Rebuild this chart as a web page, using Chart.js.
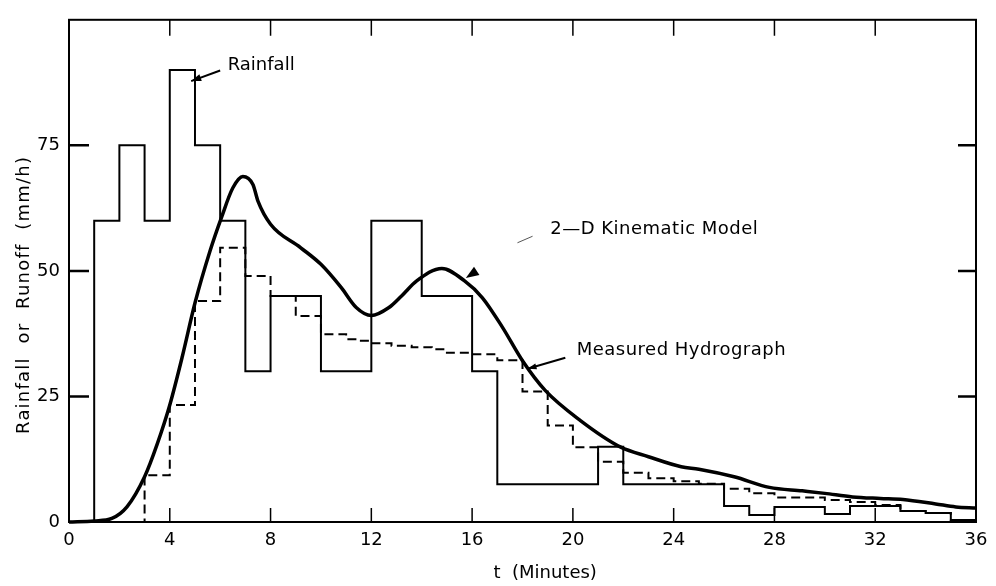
<!DOCTYPE html>
<html lang="en">
<head>
<meta charset="UTF-8">
<title>Rainfall and runoff hydrograph</title>
<script src="https://cdn.jsdelivr.net/npm/chart.js"></script>
<style>
  html, body { margin: 0; padding: 0; background: #fff; }
  #wrap { width: 996px; height: 586px; }
</style>
</head>
<body>
<div id="wrap"><canvas id="hydro" width="996" height="586"></canvas></div>
<script>
// rainfall intensity (mm/h), each value holds until the next time (min)
const rainTime = [0, 1, 2, 3, 4, 5, 6, 7, 8, 10, 12, 14, 16, 17, 21, 22, 26, 27, 28, 30, 31, 33, 34, 35, 36];
const rainRate = [0, 60, 75, 60, 90, 75, 60, 30, 45, 30, 60, 45, 30, 7.5, 15, 7.5, 3.2, 1.4, 3.0, 1.6, 3.2, 2.2, 1.8, 0.4, 0.4];

// measured hydrograph, also stepped
const measTime = [0, 3, 4, 5, 6, 7, 8, 9, 10, 11, 11.5, 12, 12.8, 13.6, 14.4, 15, 16, 17, 18, 19,
                  20, 21, 22, 23, 24, 25, 26, 27, 28, 30, 31, 32, 33, 34, 35, 36];
const measRate = [0, 9.3, 23.3, 44, 54.6, 49, 45, 41, 37.4, 36.4, 36.1, 35.6, 35.1, 34.8, 34.4, 33.7, 33.4, 32.2, 26, 19.2,
                  14.9, 12, 9.8, 8.7, 8.1, 7.6, 6.6, 5.7, 4.9, 4.4, 4.0, 3.4, 2.2, 1.8, 0.4, 0.4];

// 2-D kinematic model (smooth curve)
const modelTime = [0, 1, 1.7, 2.3, 3, 3.5, 4, 4.5, 5, 5.6, 6.05, 6.5, 6.9, 7.3, 7.5, 8, 9.2, 10, 10.8, 11.4,
                   12, 12.7, 13.2, 13.8, 14.8, 15.7, 16.4, 17.2, 18, 18.9, 20.3, 21.9, 23, 24.3, 25, 26.4, 27.8, 29.1, 30, 31.1,
                   32.2, 33.1, 34.4, 35.2, 36];
const modelRate = [0, 0.2, 0.7, 3.0, 9, 15.5, 23.3, 33, 43.6, 54, 60.6, 66.5, 68.8, 67.2, 63.9, 59.3, 54.6, 51.3, 46.7, 42.7,
                   41.1, 42.7, 45, 48, 50.5, 48, 44.7, 38.8, 32.1, 26.2, 20.2, 14.9, 13, 11, 10.5, 9.0, 6.9, 6.2, 5.7, 5.0,
                   4.7, 4.5, 3.6, 3.0, 2.8];

const xTicks = [0, 4, 8, 12, 16, 20, 24, 28, 32, 36];
const yTicks = [0, 25, 50, 75];

const xTitle = 't  (Minutes)';
const yTitle = 'Rainfall  or  Runoff  (mm/h)';

const FONT = '"DejaVu Sans", sans-serif';

function pts(ts, vs) {
  return ts.map((t, i) => ({ x: t, y: vs[i] }));
}

function arrowHead(ctx, x1, y1, x2, y2, len, wid) {
  const a = Math.atan2(y2 - y1, x2 - x1);
  ctx.beginPath();
  ctx.moveTo(x2, y2);
  ctx.lineTo(x2 - len * Math.cos(a) + wid * Math.sin(a), y2 - len * Math.sin(a) - wid * Math.cos(a));
  ctx.lineTo(x2 - len * Math.cos(a) - wid * Math.sin(a), y2 - len * Math.sin(a) + wid * Math.cos(a));
  ctx.closePath();
  ctx.fill();
}

// border, inward ticks, titles and callouts
const frame = {
  id: 'frame',
  afterDatasetsDraw(chart) {
    const { ctx, chartArea: a, scales: { x, y } } = chart;
    ctx.save();
    ctx.strokeStyle = '#000';
    ctx.fillStyle = '#000';
    ctx.lineWidth = 2;
    ctx.strokeRect(a.left, a.top, a.right - a.left, a.bottom - a.top);

    ctx.lineWidth = 1.5;
    xTicks.slice(1, -1).forEach(v => {
      const px = x.getPixelForValue(v);
      ctx.beginPath();
      ctx.moveTo(px, a.bottom); ctx.lineTo(px, a.bottom - 14);
      ctx.moveTo(px, a.top); ctx.lineTo(px, a.top + 16);
      ctx.stroke();
    });
    ctx.lineWidth = 2.5;
    yTicks.slice(1).forEach(v => {
      const py = y.getPixelForValue(v);
      ctx.beginPath();
      ctx.moveTo(a.left, py); ctx.lineTo(a.left + 20, py);
      ctx.moveTo(a.right, py); ctx.lineTo(a.right - 18, py);
      ctx.stroke();
    });

    // axis titles
    ctx.font = '18px ' + FONT;
    ctx.textAlign = 'center';
    ctx.textBaseline = 'middle';
    ctx.fillText(xTitle, x.getPixelForValue(18.9), a.bottom + 51);
    ctx.save();
    ctx.letterSpacing = '1.2px';
    ctx.translate(a.left - 45, (a.top + a.bottom) / 2 + 24);
    ctx.rotate(-Math.PI / 2);
    ctx.fillText(yTitle, 0, 0);
    ctx.restore();

    // callouts
    ctx.textAlign = 'left';
    ctx.fillText('Rainfall', x.getPixelForValue(6.3), y.getPixelForValue(91));
    ctx.letterSpacing = '0.5px';
    ctx.fillText('2\u2014D Kinematic Model', x.getPixelForValue(19.1), y.getPixelForValue(58.3));
    ctx.fillText('Measured Hydrograph', x.getPixelForValue(20.15), y.getPixelForValue(34.1));
    ctx.letterSpacing = '0px';

    ctx.lineWidth = 2;
    let x1 = x.getPixelForValue(6.0), y1 = y.getPixelForValue(89.9);
    let x2 = x.getPixelForValue(4.85), y2 = y.getPixelForValue(87.8);
    ctx.beginPath(); ctx.moveTo(x1, y1); ctx.lineTo(x2, y2); ctx.stroke();
    arrowHead(ctx, x1, y1, x2, y2, 10, 3.5);

    x1 = x.getPixelForValue(19.7); y1 = y.getPixelForValue(32.7);
    x2 = x.getPixelForValue(18.2); y2 = y.getPixelForValue(30.5);
    ctx.beginPath(); ctx.moveTo(x1, y1); ctx.lineTo(x2, y2); ctx.stroke();
    arrowHead(ctx, x1, y1, x2, y2, 9, 3);

    // faint leader of the model label
    ctx.lineWidth = 1;
    ctx.strokeStyle = '#555';
    x1 = x.getPixelForValue(18.4); y1 = y.getPixelForValue(56.9);
    x2 = x.getPixelForValue(17.8); y2 = y.getPixelForValue(55.6);
    ctx.beginPath(); ctx.moveTo(x1, y1); ctx.lineTo(x2, y2); ctx.stroke();
    arrowHead(ctx, x.getPixelForValue(17.2), y.getPixelForValue(53.3),
              x.getPixelForValue(15.75), y.getPixelForValue(48.6), 13, 5);
    ctx.restore();
  }
};

const ctx = document.getElementById('hydro').getContext('2d');
new Chart(ctx, {
  type: 'line',
  data: {
    datasets: [
      {
        label: 'Rainfall',
        data: pts(rainTime, rainRate),
        stepped: true,
        borderColor: '#000',
        borderWidth: 2,
        pointRadius: 0,
        clip: 6
      },
      {
        label: 'Measured Hydrograph',
        data: pts(measTime, measRate),
        stepped: true,
        borderColor: '#000',
        borderWidth: 2,
        borderDash: [9, 5],
        pointRadius: 0,
        clip: 6
      },
      {
        label: '2-D Kinematic Model',
        data: pts(modelTime, modelRate),
        cubicInterpolationMode: 'monotone',
        borderColor: '#000',
        borderWidth: 3.5,
        pointRadius: 0,
        clip: 6
      }
    ]
  },
  options: {
    responsive: false,
    animation: false,
    layout: { padding: { top: 17, right: 20, left: 0, bottom: 0 } },
    plugins: { legend: { display: false }, tooltip: { enabled: false } },
    scales: {
      x: {
        type: 'linear',
        min: 0,
        max: 36,
        afterBuildTicks: s => { s.ticks = xTicks.map(v => ({ value: v })); },
        afterFit: s => { s.height = 64; },
        ticks: { color: '#000', font: { family: FONT, size: 18 }, padding: 8, maxRotation: 0 },
        grid: { display: false, drawTicks: false },
        border: { display: false }
      },
      y: {
        min: 0,
        max: 100,
        afterBuildTicks: s => { s.ticks = yTicks.map(v => ({ value: v })); },
        afterFit: s => { s.width = 69; },
        ticks: { color: '#000', font: { family: FONT, size: 18 }, padding: 9 },
        grid: { display: false, drawTicks: false },
        border: { display: false }
      }
    }
  },
  plugins: [frame]
});
</script>
</body>
</html>
